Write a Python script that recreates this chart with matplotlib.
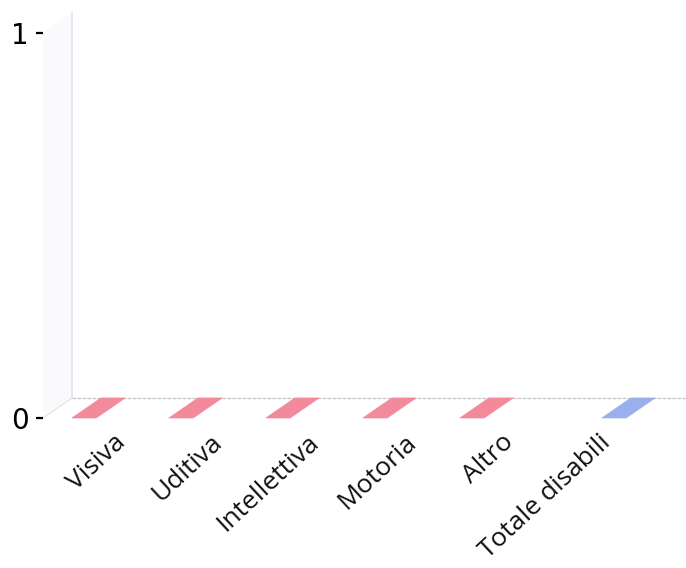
import numpy as np
import matplotlib
matplotlib.use('Agg')
import matplotlib.pyplot as plt
from matplotlib.patches import Polygon
from matplotlib.transforms import ScaledTranslation

categorie = ['Visiva', 'Uditiva', 'Intellettiva', 'Motoria', 'Altro', 'Totale disabili']
disabili = [0, 0, 0, 0, 0, np.nan]
totale = [np.nan, np.nan, np.nan, np.nan, np.nan, 0]
y_ticks = [0, 1]

col_rosso = '#f28a9c'
col_blu = '#9ab0ec'

fig = plt.figure(figsize=(6.86, 5.68), dpi=100)
ax = fig.add_axes([0.0627, 0.2641, 0.895, 0.6778])

x = np.arange(len(categorie))
xl, xr = -0.655, 5.675
ax.set_xlim(xl, xr)
ax.set_ylim(0, 1)

# profondita' finta 3d (in unita' dati)
dx, dy = 0.299, 0.052
w = 0.25

# parete sinistra e pavimento
ax.add_patch(Polygon([(xl, 0), (xl + dx, dy), (xl + dx, 1 + dy), (xl, 1)],
                     closed=True, facecolor='#fafafc', edgecolor='none', clip_on=False, zorder=0))
ax.plot([xl + dx, xl + dx], [dy, 1 + dy], color='#e6e6f2', lw=1.3, clip_on=False, zorder=1)
ax.plot([xl + dx, xr + dx], [dy, dy], color='#c4c4c4', lw=0.9, ls=(0, (3, 1)), clip_on=False, zorder=1)
ax.plot([xl, xl + dx], [0, dy], color='#e2e2e2', lw=0.8, clip_on=False, zorder=1)


def barra(xc, h, col):
    # con valore zero resta solo la faccia superiore (pavimento)
    pts = [(xc - w / 2, h), (xc + w / 2, h), (xc + w / 2 + dx, h + dy), (xc - w / 2 + dx, h + dy)]
    ax.add_patch(Polygon(pts, closed=True, facecolor=col, edgecolor=col, lw=0.5,
                         clip_on=False, zorder=3))


for i in range(len(categorie)):
    if not np.isnan(disabili[i]):
        barra(x[i] - 0.232, disabili[i], col_rosso)
    if not np.isnan(totale[i]):
        barra(x[i] + 0.232, totale[i], col_blu)

for s in ax.spines.values():
    s.set_visible(False)

ax.set_xticks([])
ax.set_yticks(y_ticks)
ax.set_yticklabels([str(v) for v in y_ticks], fontsize=20, family='DejaVu Sans')
ax.tick_params(axis='y', length=5, width=1.6, pad=5, color='black')

off = ScaledTranslation(0.07, -0.12, fig.dpi_scale_trans)
for i, lab in enumerate(categorie):
    ax.text(x[i], 0, lab, transform=ax.transData + off, rotation=43, ha='right', va='top',
            rotation_mode='anchor', fontsize=19, family='Open Sans', color='#111111')

fig.savefig('out.png', dpi=100)
